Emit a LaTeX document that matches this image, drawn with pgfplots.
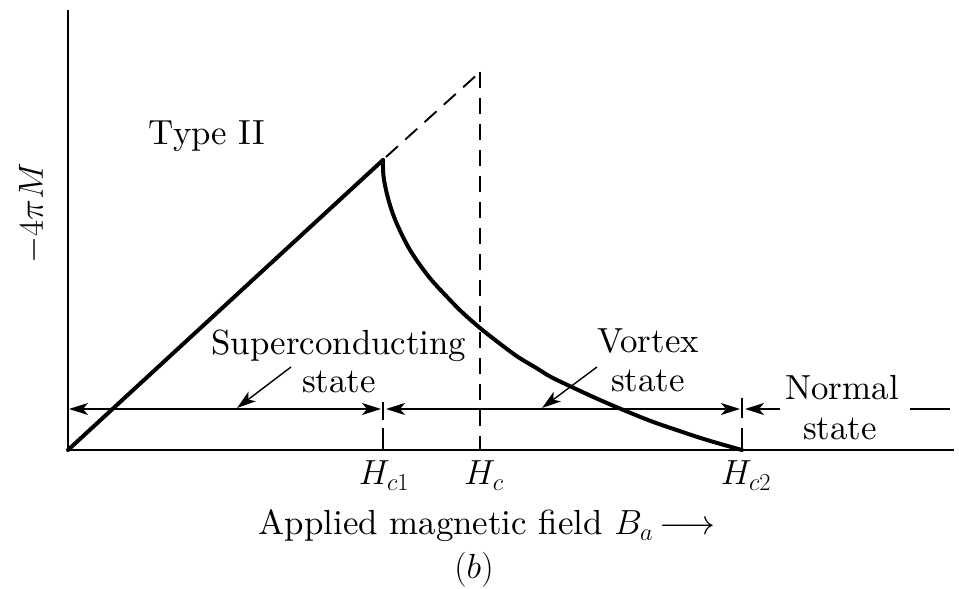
\RequirePackage{fix-cm}
\documentclass[border=0pt]{standalone}
\usepackage{fontspec}
\setmainfont{lmroman10-regular.otf}[ItalicFont=lmroman10-italic.otf, BoldFont=lmroman10-bold.otf]
\usepackage{pgfplots}
\pgfplotsset{compat=1.18}
\usetikzlibrary{arrows.meta}

% Magnetization curve of a type II superconductor in the vortex state
\pgfplotstableread{
x     y
315   290
315.6 273
320.5 250
328.5 227
342   200
361   173
382   150
396   136
412   122
431   107
450   93
467.5 82.5
483   73
508   61
532   50
559   38.5
584   28.5
610   19.5
633.5 11.7
654   5.6
674   0
}\vortexcurve

\begin{document}
\begin{tikzpicture}[
  font=\fontsize{35}{42}\selectfont,
  >={Stealth[length=19bp,width=12bp,inset=5bp]},
]
\begin{axis}[
  x=1bp, y=1bp,
  xmin=0, xmax=886, ymin=0, ymax=440,
  axis lines=left,
  axis line style={-, line width=1.9bp},
  xtick=\empty, ytick=\empty,
  clip=false,
]
% Meissner region: straight line up to H_c1
\addplot[line width=4bp, line cap=round] coordinates {(0,0) (315,290)};
% vortex region: magnetization falls to zero at H_c2
\addplot[line width=4bp, line cap=round, smooth, tension=0.55] table[x=x, y=y] {\vortexcurve};
% thermodynamic critical field construction (dashed)
\addplot[line width=1.9bp, dash pattern=on 16bp off 10bp] coordinates {(318,293) (412,378)};
\addplot[line width=1.9bp, dash pattern=on 16bp off 10bp] coordinates {(412,378) (412,0)};

% state ranges along the field axis
\addplot[line width=1.4bp, <->] coordinates {(1,41) (313,41)};
\addplot[line width=1.4bp, <->] coordinates {(318,41) (672,41)};
\addplot[line width=1.4bp, <-] coordinates {(677,41) (712,41)};
\addplot[line width=1.4bp] coordinates {(842,41) (882,41)};
% boundary marks at H_c1 and H_c2
\addplot[line width=1.4bp] coordinates {(315,30) (315,48)};
\addplot[line width=1.9bp] coordinates {(315,0) (315,22)};
\addplot[line width=1.4bp] coordinates {(674,32) (674,52)};
\addplot[line width=1.9bp] coordinates {(674,0) (674,22)};
% pointers from the state labels
\addplot[line width=1.4bp, ->] coordinates {(223,83) (169,42)};
\addplot[line width=1.4bp, ->] coordinates {(529,83) (474,42)};

% labels
\node[anchor=base] at (axis cs:139,305) {Type II};
\node[anchor=base] at (axis cs:271,95) {Superconducting};
\node[anchor=base] at (axis cs:271,57) {state};
\node[anchor=base] at (axis cs:580,97) {Vortex};
\node[anchor=base] at (axis cs:580,58) {state};
\node[anchor=base] at (axis cs:774,50) {Normal};
\node[anchor=base] at (axis cs:772,10) {state};
\node[anchor=base] at (axis cs:316,-35) {$H_{c1}$};
\node[anchor=base] at (axis cs:416,-35) {$H_{c}$};
\node[anchor=base] at (axis cs:678,-35) {$H_{c2}$};
\node[anchor=base] at (axis cs:419,-85) {Applied magnetic field $B_a$\,$\longrightarrow$};
\node[anchor=base] at (axis cs:406,-128) {$(b)$};
\node[anchor=base, rotate=90] at (axis cs:-25,237) {$-4\pi M$};

\coordinate (bbSW) at (axis cs:-68,-139);
\coordinate (bbNE) at (axis cs:891,450);
\end{axis}
\pgfresetboundingbox
\path (bbSW) rectangle (bbNE);
\end{tikzpicture}
\end{document}
